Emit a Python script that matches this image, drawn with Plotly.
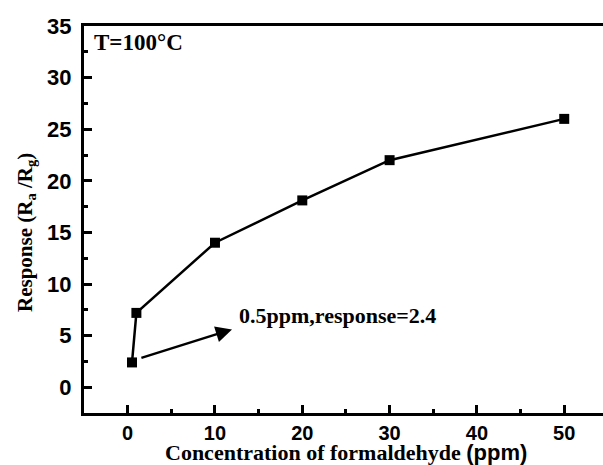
import plotly.graph_objects as go

conc = [0.5, 1, 10, 20, 30, 50]
response = [2.4, 7.2, 14.0, 18.1, 22.0, 26.0]
x_ticks = [0, 10, 20, 30, 40, 50]
y_ticks = [0, 5, 10, 15, 20, 25, 30, 35]

serif = "Liberation Serif"
sans = "Liberation Sans"

fig = go.Figure()
fig.add_trace(go.Scatter(
    x=conc, y=response, mode="lines+markers",
    line=dict(color="black", width=2.5),
    marker=dict(symbol="square", size=10, color="black"),
    showlegend=False, cliponaxis=False,
))

fig.update_layout(
    width=603, height=465,
    margin=dict(l=84, r=0, t=26, b=52),
    paper_bgcolor="white", plot_bgcolor="white",
    xaxis=dict(
        range=[-5, 54.44], tickvals=x_ticks, ticks="inside", ticklen=8, tickwidth=2.5,
        tickcolor="black", showline=True, linewidth=3, linecolor="black", mirror=True,
        showgrid=False, zeroline=False,
        tickfont=dict(family=sans, size=20, weight="bold", color="black"),
        minor=dict(dtick=5, ticks="inside", ticklen=4, tickwidth=2.5, tickcolor="black"),
        ticklabelstandoff=0,
    ),
    yaxis=dict(
        range=[-2.5, 35], tickvals=y_ticks, ticks="inside", ticklen=8, tickwidth=2.5,
        tickcolor="black", showline=True, linewidth=3, linecolor="black", mirror=False,
        showgrid=False, zeroline=False,
        tickfont=dict(family=sans, size=22, weight="bold", color="black"),
        minor=dict(dtick=2.5, ticks="inside", ticklen=4, tickwidth=2.5, tickcolor="black"),
        ticklabelstandoff=5,
    ),
    annotations=[
        dict(text="T=100°C", x=-4.1, y=33.4, xref="x", yref="y", xanchor="left",
             yanchor="middle", showarrow=False,
             font=dict(family=serif, size=23, weight="bold", color="black")),
        dict(text="0.5ppm,response=2.4", x=12.5, y=6.94, xref="x", yref="y",
             xanchor="left", yanchor="middle", showarrow=False,
             font=dict(family=serif, size=22, weight="bold", color="black")),
        dict(text="", x=11.95, y=5.6, ax=1.4, ay=2.8, xref="x", yref="y",
             axref="x", ayref="y", showarrow=True, arrowhead=2, arrowsize=1.3,
             arrowwidth=2.5, arrowcolor="black", standoff=0, startstandoff=0),
        dict(text="Response (R<sub>a</sub> /R<sub>g</sub>)", x=26, y=233,
             xref="paper", yref="paper", showarrow=False, textangle=-90,
             font=dict(family=serif, size=21, weight="bold", color="black")),
        dict(text="Concentration of formaldehyde <span style='font-family:Liberation Sans'>(ppm)</span>",
             x=346, y=452, xref="paper", yref="paper", showarrow=False,
             font=dict(family=serif, size=22, weight="bold", color="black")),
    ],
)

# convert pixel-located titles to paper coords
W, H = 603, 465
l, r, t, b = 84, 0, 26, 52
pw, ph = W - l - r, H - t - b
for a in fig.layout.annotations:
    if a.xref == "paper":
        a.x = (a.x - l) / pw
        a.y = (H - b - a.y) / ph
        a.xanchor = "center"
        a.yanchor = "middle"

fig.write_html("out.html")
